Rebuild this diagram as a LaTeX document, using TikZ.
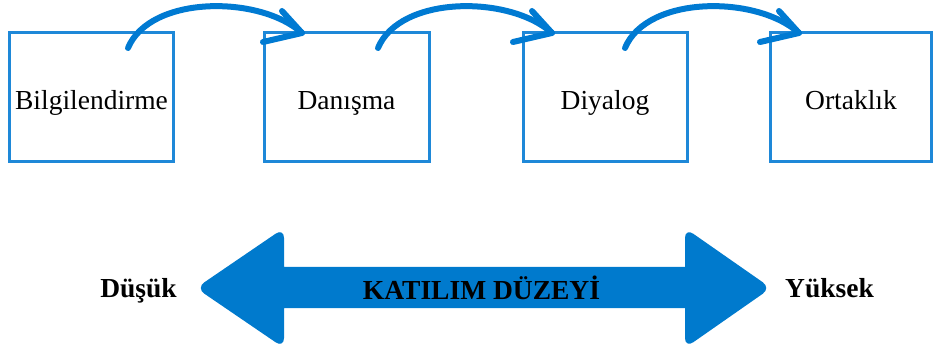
\documentclass[tikz,border=0pt]{standalone}
\usepackage{fontspec}
\setmainfont{Liberation Serif}
\usetikzlibrary{calc}
\definecolor{boxblue}{RGB}{30,136,216}
\definecolor{arrowblue}{RGB}{0,122,210}
\definecolor{bigblue}{RGB}{0,122,205}
\tikzset{
  stagebox/.style={draw=boxblue, line width=3pt, minimum height=129pt, inner sep=0pt,
    text height=25pt, text depth=0pt, font=\fontsize{27.5}{30}\selectfont},
  flowarrow/.style={draw=arrowblue, line width=6pt, line cap=round, line join=round},
  sidelabel/.style={font=\fontsize{27.5}{30}\selectfont\bfseries, anchor=base, inner sep=0pt}
}
\begin{document}
\begin{tikzpicture}[x=1pt,y=-1pt]
\useasboundingbox (0,0) rectangle (933,352);
% stage boxes
\node[stagebox, minimum width=164pt] (b1) at (91.5,97.5) {Bilgilendirme};
\node[stagebox, minimum width=165pt] (b2) at (346.5,97.5) {Danışma};
\node[stagebox, minimum width=164pt] (b3) at (605,97.5) {Diyalog};
\node[stagebox, minimum width=161pt] (b4) at (851,97.5) {Ortaklık};
% curved arrows
\coordinate (s1) at (128,48);  \coordinate (t1) at (302,33);
\coordinate (s2) at (378,48);  \coordinate (t2) at (552,33);
\coordinate (s3) at (625,48);  \coordinate (t3) at (799,33);
\foreach \s/\t in {s1/t1,s2/t2,s3/t3}{
  \draw[flowarrow] (\s) .. controls ($(\s)+(22,-53)$) and ($(\t)+(-42,-38)$) .. (\t);
  \draw[flowarrow] ($(\t)+(-20,-22)$) -- (\t) -- ($(\t)+(-39,9)$);
}
% big double arrow
\fill[bigblue] (284,267) [rounded corners=10pt] -- (284,228) -- (196,288) -- (284,348) [sharp corners] -- (284,308) -- (685,308) [rounded corners=10pt] -- (685,348) -- (771,288) -- (685,228) [sharp corners] -- (685,267) -- cycle;
\node[sidelabel] (lvl) at (481.5,299) {KATILIM DÜZEYİ};
\node[sidelabel] (low) at (138.5,298) {Düşük};
\node[sidelabel] (high) at (829.5,298) {Yüksek};
\end{tikzpicture}
\end{document}
